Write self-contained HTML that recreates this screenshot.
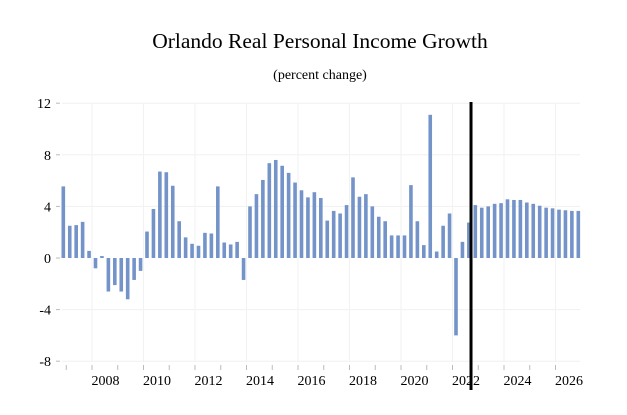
<!DOCTYPE html>
<html><head><meta charset="utf-8"><style>
html,body{margin:0;padding:0;background:#fff;}
svg{display:block;font-family:"Liberation Serif",serif;}
</style></head><body>
<svg id="chart" width="627" height="415" viewBox="0 0 627 415" xmlns="http://www.w3.org/2000/svg">
<text x="320" y="48" text-anchor="middle" font-size="21.5">Orlando Real Personal Income Growth</text>
<text x="320" y="79" text-anchor="middle" font-size="14">(percent change)</text>
<g id="grid"></g><g id="bars"></g><g id="axes"></g>
</svg>
<script>
const values = [5.55,2.5,2.55,2.8,0.55,-0.8,0.15,-2.6,-2.1,-2.6,-3.2,-1.7,-1.0,2.05,3.8,6.7,6.65,5.6,2.85,1.6,1.1,0.95,1.95,1.9,5.55,1.2,1.05,1.25,-1.7,4.0,4.95,6.05,7.35,7.6,7.15,6.6,5.85,5.25,4.7,5.1,4.65,2.9,3.65,3.45,4.1,6.25,4.75,4.95,4.0,3.2,2.85,1.75,1.75,1.75,5.65,2.85,1.0,11.1,0.5,2.5,3.45,-6.0,1.25,2.75,4.1,3.9,4.0,4.2,4.25,4.55,4.5,4.5,4.3,4.2,4.05,3.9,3.85,3.75,3.7,3.65,3.65];
const yTicks = [12,8,4,0,-4,-8];
const yearLabels = [2008,2010,2012,2014,2016,2018,2020,2022,2024,2026];
const firstQuarter = 2006.75; // first bar = 2006 Q4
const forecastStart = 2022.75;
const NS='http://www.w3.org/2000/svg';
const y = v => 258 - v*12.9;
const x = t => 92 + (t-2008)*25.75; // t in years
function mk(tag, attrs, parent){const e=document.createElementNS(NS,tag);for(const k in attrs)e.setAttribute(k,attrs[k]);parent.appendChild(e);return e;}
const grid=document.getElementById('grid'), bars=document.getElementById('bars'), axes=document.getElementById('axes');
yTicks.forEach(v=>{
  if(v!==0){const g=mk('line',{x1:62,x2:580,y1:y(v),y2:y(v),stroke:'#f0f0f0','stroke-width':1},grid);
  
  }
  const tk=mk('line',{x1:56,x2:60,y1:y(v),y2:y(v),stroke:'#bbb','stroke-width':1},axes);
  
  
  const t=mk('text',{x:51,y:y(v)+5,'text-anchor':'end','font-size':14},axes);
  t.textContent=v;
  
  
});
for(let yr=2008;yr<=2026;yr+=2){
  const g=mk('line',{x1:x(yr),x2:x(yr),y1:103,y2:362,stroke:'#f2f2f2','stroke-width':1},grid);
  
  
}
for(let yr=2007;yr<=2026;yr++){
  const tk=mk('line',{x1:x(yr),x2:x(yr),y1:365,y2:370,stroke:'#bbb','stroke-width':1},axes);
  
  
}
yearLabels.forEach(yr=>{
  const t=mk('text',{x:x(yr)+13.5,y:385,'text-anchor':'middle','font-size':14},axes);
  t.textContent=yr;
  
  
});
values.forEach((v,i)=>{
  const cx=x(firstQuarter+i*0.25)+3.5;
  const r=mk('rect',{x:cx-1.8,y:Math.min(y(v),y(0)),width:3.6,height:Math.abs(y(v)-y(0)),fill:'#7393c9'},bars);
  
  
});
const fl=mk('line',{x1:x(forecastStart)-0.8,x2:x(forecastStart)-0.8,y1:102,y2:390,stroke:'#000','stroke-width':3},axes);


</script>
</body></html>
